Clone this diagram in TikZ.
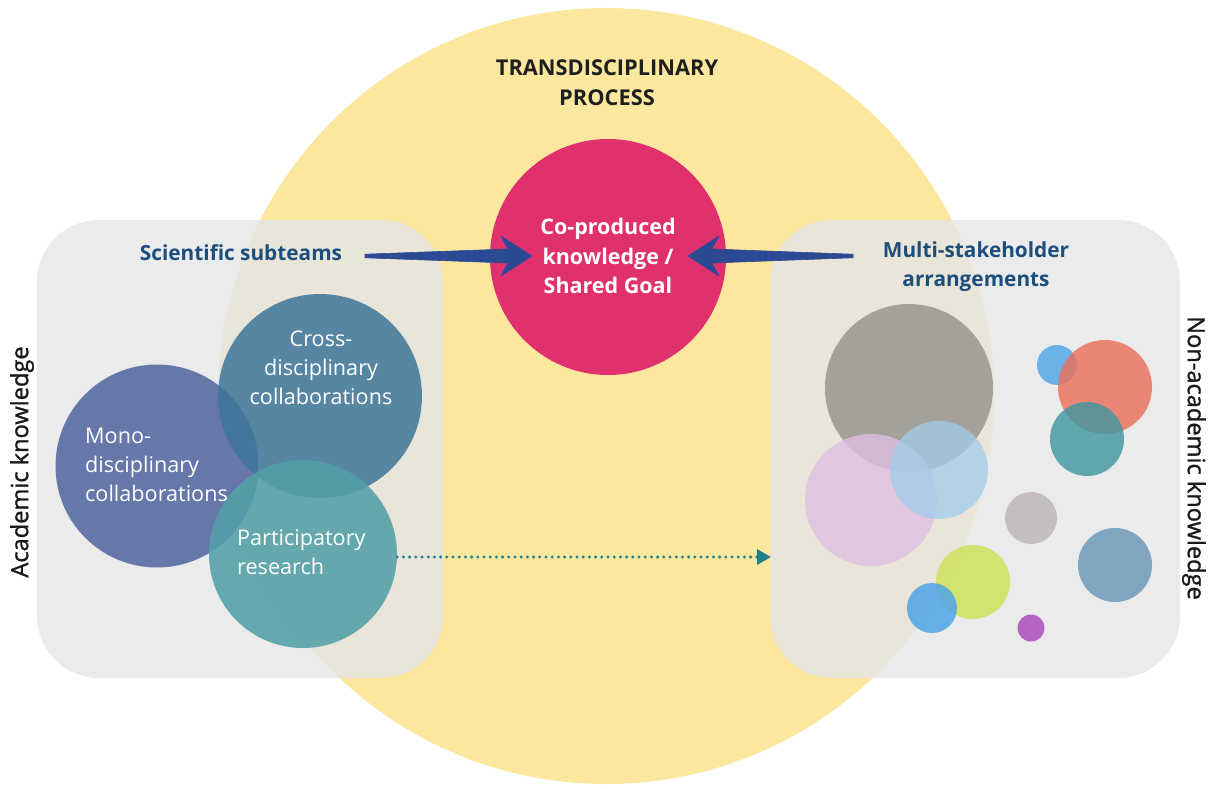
\documentclass[tikz,border=0pt]{standalone}
\usepackage{fontspec}
\setmainfont{Open Sans}
\newfontfamily\sidefont[FakeBold=1.2]{Open Sans}
\usetikzlibrary{arrows.meta,calc}
\definecolor{procyellow}{RGB}{252,231,158}
\definecolor{boxgray}{RGB}{230,230,230}
\definecolor{goalpink}{RGB}{224,48,110}
\definecolor{arrowblue}{RGB}{44,74,148}
\definecolor{labelblue}{RGB}{28,78,125}
\definecolor{monoblue}{RGB}{92,110,165}
\definecolor{crossblue}{RGB}{62,118,154}
\definecolor{partteal}{RGB}{82,160,168}
\definecolor{dotteal}{RGB}{32,128,142}
\definecolor{sgray}{RGB}{140,139,134}
\definecolor{slilac}{RGB}{222,190,224}
\definecolor{slightblue}{RGB}{160,205,235}
\definecolor{sblue}{RGB}{78,165,232}
\definecolor{ssalmon}{RGB}{236,112,90}
\definecolor{steal}{RGB}{62,150,160}
\definecolor{spalegray}{RGB}{196,190,190}
\definecolor{ssteel}{RGB}{128,165,192}
\definecolor{slime}{RGB}{206,226,90}
\definecolor{spurple}{RGB}{182,100,196}
\tikzset{
  sphere/.style={circle,inner sep=0pt,draw=none},
  knowbox/.style={fill=boxgray,fill opacity=0.82,rounded corners=62pt},
  sublabel/.style={font=\fontsize{20.8}{29}\selectfont\bfseries,text=labelblue,align=center,inner sep=0pt},
  circtext/.style={font=\fontsize{21.6}{29}\selectfont,text=white,inner sep=0pt},
  sidelabel/.style={font=\fontsize{23.6}{28}\selectfont\sidefont,text=black!90,inner sep=0pt},
  bigarrow/.style={fill=arrowblue,draw=arrowblue,line width=0.6pt,line join=round},
}
\begin{document}
\begin{tikzpicture}[x=1pt,y=-1pt]
\useasboundingbox (0,0) rectangle (1210,789);
% transdisciplinary process circle
\node[sphere,fill=procyellow,minimum size=776pt] (proc) at (606,396) {};
% knowledge boxes
\path[knowbox] (37,220) rectangle (443,678);
\path[knowbox] (770,220) rectangle (1180,678);
% shared goal
\node[sphere,fill=goalpink,minimum size=236pt] (goal) at (608,257) {};
\node[font=\fontsize{21.5}{29.5}\selectfont\bfseries,text=white,align=center,inner sep=0pt] (goaltxt) at (608,256) {Co-produced\\knowledge /\\Shared Goal};
% title
\node[font=\fontsize{21.8}{30}\selectfont\bfseries,text=black!88,align=center,inner sep=0pt] (title) at (607,83) {TRANSDISCIPLINARY\\PROCESS};
% subteam labels
\node[sublabel] (sci) at (241,253) {Scientific subteams};
\node[sublabel] (multi) at (976,267) {Multi-stakeholder\\arrangements};
% arrows
\coordinate (ltail) at (365,256);
\coordinate (ltip) at (532,256);
\coordinate (rtail) at (853,256);
\coordinate (rtip) at (688,256);
\path[bigarrow] ($(ltail)+(0,-1.8)$) -- ($(ltip)+(-24,-7)$) -- ($(ltip)+(-31,-20)$) -- (ltip) -- ($(ltip)+(-31,20)$) -- ($(ltip)+(-24,7)$) -- ($(ltail)+(0,1.8)$) -- cycle;
\path[bigarrow] ($(rtail)+(0,-1.8)$) -- ($(rtip)+(24,-7)$) -- ($(rtip)+(31,-20)$) -- (rtip) -- ($(rtip)+(31,20)$) -- ($(rtip)+(24,7)$) -- ($(rtail)+(0,1.8)$) -- cycle;
% academic circles
\node[sphere,fill=monoblue,fill opacity=0.92,minimum size=203pt] (mono) at (157,466) {};
\node[sphere,fill=crossblue,fill opacity=0.85,minimum size=204pt] (cross) at (320,396) {};
\node[sphere,fill=partteal,fill opacity=0.88,minimum size=188pt] (part) at (303,554) {};
\node[circtext,align=left,anchor=west] (monotxt) at (85,465) {Mono-\\disciplinary\\collaborations};
\node[circtext,align=center] (crosstxt) at (321,368) {Cross-\\disciplinary\\collaborations};
\node[circtext,align=left,anchor=west] (parttxt) at (237,552) {Participatory\\research};
% dotted connector
\coordinate (dotend) at (771,557);
\draw[dotteal,line width=3.3pt,line cap=round,dash pattern=on 0pt off 6.2pt,-{Triangle[length=14pt,width=15pt]}] (part.east |- dotend) -- (dotend);
% stakeholder circles
\node[sphere,fill=sgray,fill opacity=0.75,minimum size=168pt] (s1) at (909,388) {};
\node[sphere,fill=slilac,fill opacity=0.8,minimum size=132pt] (s2) at (871,500) {};
\node[sphere,fill=slightblue,fill opacity=0.75,minimum size=98pt] (s3) at (939,470) {};
\node[sphere,fill=sblue,fill opacity=0.82,minimum size=40pt] (s4) at (1057,365) {};
\node[sphere,fill=ssalmon,fill opacity=0.82,minimum size=94pt] (s5) at (1105,387) {};
\node[sphere,fill=steal,fill opacity=0.8,minimum size=74pt] (s6) at (1087,439) {};
\node[sphere,fill=spalegray,minimum size=52pt] (s7) at (1031,518) {};
\node[sphere,fill=ssteel,minimum size=74pt] (s8) at (1115,565) {};
\node[sphere,fill=slime,fill opacity=0.85,minimum size=74pt] (s9) at (973,582) {};
\node[sphere,fill=sblue,fill opacity=0.85,minimum size=50pt] (s10) at (932,608) {};
\node[sphere,fill=spurple,minimum size=27pt] (s11) at (1031,628) {};
% side labels
\node[sidelabel,rotate=90] (acad) at (22,462) {Academic knowledge};
\node[sidelabel,rotate=-90] (nonacad) at (1194,458) {Non-academic knowledge};
\end{tikzpicture}
\end{document}
